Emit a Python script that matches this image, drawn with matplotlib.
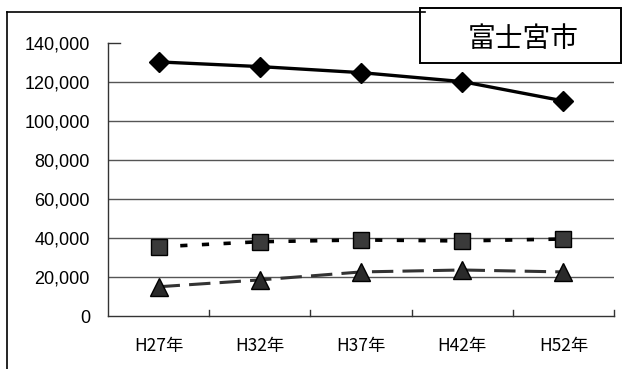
import matplotlib
matplotlib.use("Agg")
import matplotlib.pyplot as plt
from matplotlib.patches import Rectangle
from matplotlib.lines import Line2D

# Population projection data
years = ["H27年", "H32年", "H37年", "H42年", "H52年"]
total = [130300, 127900, 124800, 120200, 110300]
middle = [35500, 38100, 39000, 38500, 39500]
lower = [15000, 18500, 22600, 23600, 22600]
yticks = [0, 20000, 40000, 60000, 80000, 100000, 120000, 140000]
title = "富士宮市"

jp = ["Noto Sans CJK JP", "DejaVu Sans"]
num_font = "Liberation Sans"

fig = plt.figure(figsize=(6.25, 3.69), dpi=100)
ax = fig.add_axes([0.1728, 0.1436, 0.8096, 0.7399])

x = list(range(len(years)))
ax.set_xlim(-0.5, len(years) - 0.5)
ax.set_ylim(0, 140000)

# horizontal gridlines (none at the top value)
for v in yticks[1:-1]:
    ax.axhline(v, color="#555555", lw=1.0, zorder=1)

ax.plot(x, total, color="black", lw=2.4, marker="D", ms=10.5,
        mfc="black", mec="black", zorder=4)
ax.plot(x, middle, color="black", lw=2.6, ls=(0, (2.0, 4.0)),
        marker="s", ms=11.5, mfc="#3a3a3a", mec="black", zorder=3)
ax.plot(x, lower, color="#333333", lw=2.2, ls=(0, (7.0, 3.0)),
        marker="^", ms=13, mfc="#2a2a2a", mec="black", zorder=3)

for s in ["top", "right"]:
    ax.spines[s].set_visible(False)
ax.spines["left"].set_color("#333333")
ax.spines["bottom"].set_color("#333333")
ax.spines["left"].set_linewidth(1.0)
ax.spines["bottom"].set_linewidth(1.0)

ax.set_yticks(yticks)
ax.set_yticklabels([f"{v:,}" for v in yticks], fontsize=13,
                   family=num_font)
ax.tick_params(axis="y", length=0, pad=13)

ax.set_xticks(x)
ax.set_xticklabels(years, fontfamily=jp, fontsize=12.5)
ax.tick_params(axis="x", length=0, pad=15)
# category boundary ticks on the x-axis
for b in [i + 0.5 for i in range(len(years))]:
    ax.plot([b, b], [0, 3000], color="#333333", lw=1.0, clip_on=False)
ax.plot([-0.5, -0.38], [140000, 140000], color="#333333", lw=1.0,
        clip_on=False)

# chart frame (top and left edges)
fig.add_artist(Line2D([0.011, 0.68], [0.967, 0.967], color="black", lw=1.2))
fig.add_artist(Line2D([0.011, 0.011], [0.0, 0.967], color="black", lw=1.2))

# title box
fig.add_artist(Rectangle((0.672, 0.828), 0.322, 0.150, fill=True,
                         facecolor="white", edgecolor="black", lw=1.4))
fig.text(0.837, 0.895, title, ha="center", va="center", fontsize=20,
         family=jp)

fig.savefig("out.png", dpi=100)
